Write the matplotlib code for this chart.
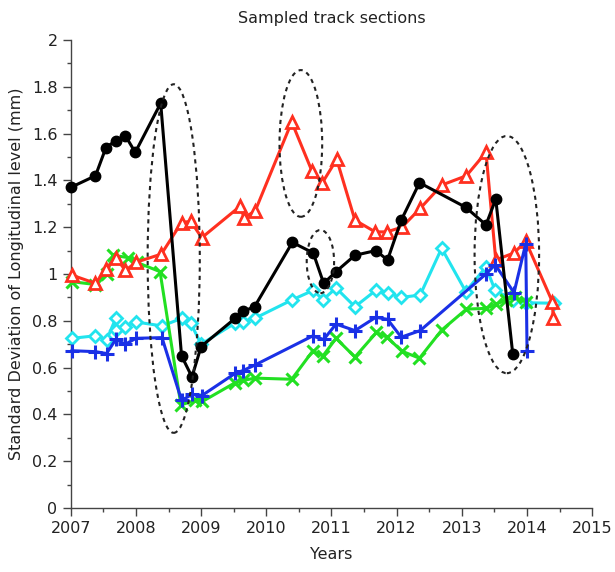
import matplotlib
matplotlib.use('Agg')
import matplotlib.pyplot as plt
from matplotlib.patches import Ellipse
from matplotlib.ticker import MultipleLocator

# Black series (circles)
black_x = [2007.0, 2007.38, 2007.54, 2007.69, 2007.84, 2007.99, 2008.38, 2008.70, 2008.86, 2009.0,
           2009.52, 2009.64, 2009.82, 2010.40, 2010.72, 2010.88, 2011.07, 2011.36, 2011.68, 2011.86,
           2012.07, 2012.35, 2013.06, 2013.37, 2013.52, 2013.78]
black_y = [1.37, 1.42, 1.54, 1.57, 1.59, 1.52, 1.73, 0.65, 0.56, 0.69,
           0.81, 0.84, 0.86, 1.135, 1.09, 0.96, 1.01, 1.08, 1.10, 1.06,
           1.23, 1.39, 1.285, 1.21, 1.32, 0.66]

# Red series (triangles)
red_x = [2007.02, 2007.38, 2007.54, 2007.69, 2007.84, 2008.0, 2008.39, 2008.70, 2008.84, 2009.01,
         2009.6, 2009.66, 2009.83, 2010.39, 2010.70, 2010.86, 2011.08, 2011.36, 2011.67, 2011.85,
         2012.08, 2012.36, 2012.69, 2013.07, 2013.37, 2013.52, 2013.80, 2013.98, 2014.39, 2014.40]
red_y = [0.995, 0.96, 1.02, 1.07, 1.015, 1.05, 1.085, 1.22, 1.225, 1.155,
         1.29, 1.24, 1.27, 1.65, 1.44, 1.39, 1.49, 1.23, 1.18, 1.18,
         1.20, 1.28, 1.38, 1.42, 1.52, 1.06, 1.09, 1.14, 0.88, 0.81]

# Green series (x)
green_x = [2007.02, 2007.38, 2007.55, 2007.65, 2007.88, 2008.01, 2008.37, 2008.69, 2008.91, 2009.02,
           2009.52, 2009.65, 2009.82, 2010.39, 2010.71, 2010.87, 2011.07, 2011.36, 2011.69, 2011.85,
           2012.08, 2012.35, 2012.69, 2013.07, 2013.37, 2013.52, 2013.68, 2013.82, 2013.98]
green_y = [0.967, 0.955, 1.00, 1.08, 1.07, 1.05, 1.01, 0.44, 0.46, 0.455,
           0.535, 0.545, 0.555, 0.55, 0.67, 0.65, 0.725, 0.645, 0.75, 0.73,
           0.67, 0.64, 0.76, 0.85, 0.853, 0.87, 0.89, 0.90, 0.88]

# Blue series (+)
blue_x = [2007.02, 2007.38, 2007.55, 2007.69, 2007.84, 2008.0, 2008.40, 2008.70, 2008.86, 2009.01,
          2009.52, 2009.64, 2009.82, 2010.71, 2010.88, 2011.07, 2011.36, 2011.68, 2011.86, 2012.07,
          2012.36, 2013.37, 2013.51, 2013.80, 2013.98, 2014.0]
blue_y = [0.672, 0.668, 0.66, 0.72, 0.70, 0.725, 0.728, 0.46, 0.485, 0.48,
          0.575, 0.587, 0.61, 0.735, 0.72, 0.786, 0.758, 0.815, 0.806, 0.73,
          0.758, 1.0, 1.04, 0.92, 1.13, 0.67]

# Cyan series (diamonds)
cyan_x = [2007.02, 2007.38, 2007.55, 2007.69, 2007.70, 2007.84, 2008.0, 2008.40, 2008.70, 2008.84,
          2009.0, 2009.52, 2009.64, 2009.82, 2010.40, 2010.72, 2010.87, 2011.07, 2011.36, 2011.68,
          2011.86, 2012.07, 2012.36, 2012.69, 2013.06, 2013.37, 2013.51, 2013.78, 2013.98, 2014.42]
cyan_y = [0.725, 0.736, 0.718, 0.81, 0.76, 0.775, 0.795, 0.778, 0.81, 0.79,
          0.70, 0.79, 0.796, 0.81, 0.89, 0.93, 0.89, 0.94, 0.86, 0.93,
          0.918, 0.90, 0.91, 1.11, 0.925, 1.03, 0.93, 0.89, 0.877, 0.875]

# Dotted ellipses: (center year, center value, width years, height value)
ellipses = [
    (2008.58, 1.066, 0.80, 1.49),
    (2010.53, 1.558, 0.655, 0.627),
    (2010.83, 1.053, 0.42, 0.27),
    (2013.69, 1.083, 0.99, 1.014),
]

fig = plt.figure(figsize=(6.15, 5.72), dpi=100)
ax = fig.add_axes([0.115, 0.112, 0.848, 0.818])

lw = 2.2
ax.plot(cyan_x, cyan_y, color='#22e4ee', lw=lw, marker='D', ms=6.5, mfc='white',
        mec='#22e4ee', mew=2, clip_on=False, zorder=3)
ax.plot(green_x, green_y, color='#22e022', lw=lw, marker='x', ms=9, mew=2.2,
        clip_on=False, zorder=3)
ax.plot(blue_x, blue_y, color='#1a30e6', lw=lw, marker='+', ms=10, mew=2.2,
        clip_on=False, zorder=4)
ax.plot(red_x, red_y, color='#ff3020', lw=lw, marker='^', ms=8.5, mfc='white',
        mec='#ff3020', mew=2, clip_on=False, zorder=3)
ax.plot(black_x, black_y, color='black', lw=lw, marker='o', ms=7.5,
        clip_on=False, zorder=5)

for cx, cy, w, h in ellipses:
    ax.add_patch(Ellipse((cx, cy), w, h, fill=False, edgecolor='#222222',
                         lw=1.5, linestyle=(0, (2, 2)), zorder=6))

ax.set_xlim(2007, 2015)
ax.set_ylim(0, 2)
ax.xaxis.set_major_locator(MultipleLocator(1))
ax.xaxis.set_minor_locator(MultipleLocator(0.5))
ax.yaxis.set_major_locator(MultipleLocator(0.2))
ax.yaxis.set_minor_locator(MultipleLocator(0.1))
ax.set_yticklabels(['0', '0.2', '0.4', '0.6', '0.8', '1', '1.2', '1.4', '1.6', '1.8', '2'])
ax.yaxis.set_ticks([0, 0.2, 0.4, 0.6, 0.8, 1.0, 1.2, 1.4, 1.6, 1.8, 2.0])

for s in ['top', 'right']:
    ax.spines[s].set_visible(False)
for s in ['left', 'bottom']:
    ax.spines[s].set_color('#444444')
    ax.spines[s].set_linewidth(1.0)

ax.tick_params(which='major', direction='out', length=6, width=1, colors='#444444',
               labelsize=11.5, labelcolor='#222222')
ax.tick_params(which='minor', direction='out', length=3, width=1, colors='#444444')

ax.set_xlabel('Years', fontsize=11.5, color='#222222', labelpad=8)
ax.set_ylabel('Standard Deviation of Longitudinal level (mm)', fontsize=11.5,
              color='#222222', labelpad=6)
ax.set_title('Sampled track sections', fontsize=11.5, color='#222222', pad=12)

fig.savefig('out.png', dpi=100, facecolor='white')
